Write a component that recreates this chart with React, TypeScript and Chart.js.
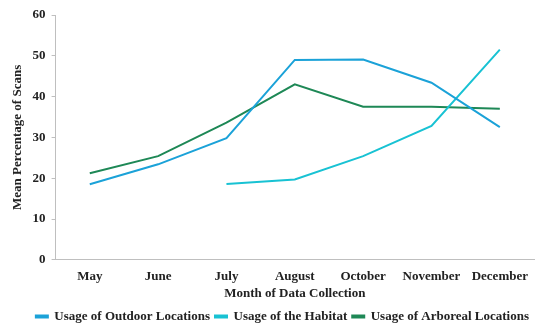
import React, { useEffect, useRef } from "react";
import { Chart, registerables } from "chart.js";

Chart.register(...registerables);

const months = ["May", "June", "July", "August", "October", "November", "December"];
const outdoor = [18.5, 23.4, 29.8, 49.0, 49.1, 43.4, 32.5];
const habitat = [null, null, 18.6, 19.7, 25.4, 32.8, 51.5];
const arboreal = [21.2, 25.4, 33.6, 43.0, 37.5, 37.5, 37.0];
const yTicks = [0, 10, 20, 30, 40, 50, 60];

const FONT = "'Liberation Serif', 'DejaVu Serif', serif";

export default function App() {
  const ref = useRef<HTMLCanvasElement | null>(null);
  useEffect(() => {
    document.body.style.margin = "0";
    const ctx = ref.current!;
    const chart = new Chart(ctx, {
      type: "line",
      data: {
        labels: months,
        datasets: [
          { label: "Usage of Outdoor Locations", data: outdoor, borderColor: "#1BA2D8", backgroundColor: "#1BA2D8", borderWidth: 2, pointRadius: 0, tension: 0 },
          { label: "Usage of the Habitat", data: habitat, borderColor: "#18C2D3", backgroundColor: "#18C2D3", borderWidth: 2, pointRadius: 0, tension: 0, spanGaps: false },
          { label: "Usage of Arboreal Locations", data: arboreal, borderColor: "#1E8856", backgroundColor: "#1E8856", borderWidth: 2, pointRadius: 0, tension: 0 },
        ],
      },
      options: {
        animation: false,
        responsive: false,
        maintainAspectRatio: false,
        layout: { padding: { left: 10, right: 16, top: 15, bottom: 3 } },
        plugins: {
          tooltip: { enabled: false },
          legend: {
            position: "bottom",
            align: "end",
            labels: {
              boxWidth: 12,
              boxHeight: 2,
              padding: 5,
              color: "#222",
              font: { family: FONT, size: 13, weight: "bold" },
            },
          },
        },
        scales: {
          x: {
            offset: true,
            grid: { display: false, drawTicks: false },
            border: { display: true, color: "#BFBFBF", width: 1 },
            ticks: { color: "#222", padding: 9, font: { family: FONT, size: 13, weight: "bold" }, maxRotation: 0 },
            title: { display: true, text: "Month of Data Collection", color: "#222", padding: { top: -8, bottom: 4 }, font: { family: FONT, size: 13, weight: "bold" } },
          },
          y: {
            min: 0,
            max: 60,
            afterBuildTicks: (axis: any) => { axis.ticks = yTicks.map((v) => ({ value: v })); },
            grid: { drawOnChartArea: false, drawTicks: true, tickLength: 4, color: "#BFBFBF" },
            border: { display: true, color: "#BFBFBF", width: 1 },
            ticks: { color: "#222", padding: 6, font: { family: FONT, size: 13, weight: "bold" } },
            title: { display: true, text: "Mean Percentage of Scans", color: "#222", padding: { top: 0, bottom: 1 }, font: { family: FONT, size: 13, weight: "bold" } },
          },
        },
      },
    });
    return () => chart.destroy();
  }, []);
  return (
    <div style={{ position: "absolute", left: 0, top: 0, width: 550, height: 336, background: "#fff" }}>
      <canvas ref={ref} width={550} height={336} style={{ width: 550, height: 336 }} />
    </div>
  );
}
